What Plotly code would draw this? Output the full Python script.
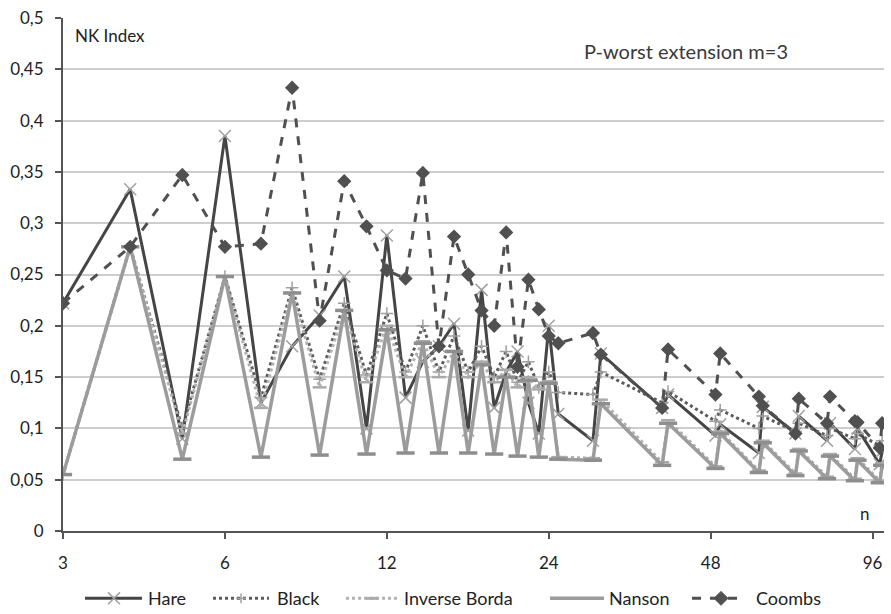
import plotly.graph_objects as go

# ---- data ----
n_vals = [3, 4, 5, 6, 7, 8, 9, 10, 11, 12, 13, 14, 15, 16, 17, 18, 19, 20, 21, 22, 23, 24,
          25, 29, 30, 39, 40, 49, 50, 59, 60, 69, 70, 79, 80, 89, 90, 99, 100]

hare = [0.222, 0.333, 0.090, 0.385, 0.125, 0.180, 0.210, 0.248, 0.100, 0.288, 0.130, 0.165,
        0.180, 0.202, 0.098, 0.235, 0.120, 0.155, 0.175, 0.125, 0.095, 0.200,
        0.114, 0.088, 0.173, 0.120, 0.133, 0.093, 0.104, 0.076, 0.121, 0.095, 0.112,
        0.088, 0.105, 0.080, 0.100, 0.065, 0.078]

black = [0.055, 0.277, 0.100, 0.248, 0.130, 0.237, 0.148, 0.222, 0.152, 0.212, 0.155, 0.200,
         0.155, 0.190, 0.155, 0.180, 0.150, 0.175, 0.145, 0.165, 0.140, 0.155,
         0.135, 0.133, 0.155, 0.125, 0.136, 0.107, 0.118, 0.100, 0.112, 0.097, 0.105,
         0.093, 0.100, 0.090, 0.095, 0.083, 0.088]

inverse_borda = [0.055, 0.277, 0.095, 0.248, 0.120, 0.232, 0.140, 0.215, 0.145, 0.200, 0.150, 0.185,
                 0.150, 0.175, 0.150, 0.165, 0.145, 0.157, 0.140, 0.150, 0.138, 0.146,
                 0.072, 0.071, 0.128, 0.067, 0.108, 0.063, 0.097, 0.059, 0.088, 0.056, 0.080,
                 0.053, 0.075, 0.051, 0.071, 0.049, 0.066]

nanson = [0.055, 0.277, 0.070, 0.248, 0.072, 0.232, 0.074, 0.215, 0.075, 0.196, 0.076, 0.183,
          0.076, 0.175, 0.076, 0.162, 0.075, 0.150, 0.073, 0.147, 0.072, 0.144,
          0.070, 0.069, 0.124, 0.064, 0.105, 0.061, 0.095, 0.057, 0.086, 0.054, 0.078,
          0.051, 0.073, 0.049, 0.069, 0.047, 0.064]

coombs = [0.222, 0.277, 0.347, 0.277, 0.280, 0.432, 0.205, 0.341, 0.297, 0.254, 0.246, 0.349,
          0.180, 0.287, 0.250, 0.215, 0.200, 0.291, 0.160, 0.245, 0.216, 0.190,
          0.183, 0.193, 0.172, 0.120, 0.177, 0.133, 0.173, 0.131, 0.122, 0.095, 0.129,
          0.105, 0.131, 0.107, 0.106, 0.081, 0.105]

series_names = ["Hare", "Black", "Inverse Borda", "Nanson", "Coombs"]

x_tick_vals = [3, 6, 12, 24, 48, 96]
x_tick_text = ["3", "6", "12", "24", "48", "96"]
y_tick_vals = [0, 0.05, 0.1, 0.15, 0.2, 0.25, 0.3, 0.35, 0.4, 0.45, 0.5]
y_tick_text = ["0", "0,05", "0,1", "0,15", "0,2", "0,25", "0,3", "0,35", "0,4", "0,45", "0,5"]

FONT = "Lato, 'Open Sans', sans-serif"
TXT = "#222222"

# styles
styles = {
    "Hare": dict(line=dict(color="#454545", width=3),
                 marker=dict(symbol="x-thin", size=12, color="#a0a0a0",
                             line=dict(color="#a0a0a0", width=1.5))),
    "Black": dict(line=dict(color="#5c5c5c", width=3, dash="dot"),
                  marker=dict(symbol="cross-thin", size=9, color="#a0a0a0",
                              line=dict(color="#a0a0a0", width=1.5))),
    "Inverse Borda": dict(line=dict(color="#b2b2b2", width=3, dash="dot"),
                          marker=dict(symbol="line-ew", size=10, color="#aaaaaa",
                                      line=dict(color="#aaaaaa", width=2.5))),
    "Nanson": dict(line=dict(color="#9c9c9c", width=3.5),
                   marker=dict(symbol="line-ew", size=13, color="#8e8e8e",
                               line=dict(color="#8e8e8e", width=3.5))),
    "Coombs": dict(line=dict(color="#505050", width=3, dash="dash"),
                   marker=dict(symbol="diamond", size=11, color="#505050")),
}
values = {"Hare": hare, "Black": black, "Inverse Borda": inverse_borda,
          "Nanson": nanson, "Coombs": coombs}

fig = go.Figure()
for name in series_names:
    fig.add_trace(go.Scatter(x=n_vals, y=values[name], name=name, mode="lines+markers",
                             showlegend=False, **styles[name]))

# ---- plot geometry (pixels) ----
W, H = 891, 614
L, R, T, B = 63, 7, 13, 83
PW, PH = W - L - R, H - T - B


def px(x):
    return (x - L) / PW


def py(y):
    return (H - B - y) / PH


# ---- legend row drawn as in the Excel original ----
LEG_Y = 599
legend_items = [
    # name, line x0, line x1, marker x, text x
    ("Hare", 85, 142, 114, 146),
    ("Black", 213, 269, 241, 275),
    ("Inverse Borda", 346, 397, 372, 402),
    ("Nanson", 550, 604, 577, 607),
    ("Coombs", 692, 746, 721, 754),
]
shapes = []
annotations = []
for name, x0, x1, mx, tx in legend_items:
    st = styles[name]
    shapes.append(dict(type="line", xref="paper", yref="paper",
                       x0=px(x0), x1=px(x1), y0=py(LEG_Y), y1=py(LEG_Y),
                       line=dict(color=st["line"]["color"], width=st["line"]["width"],
                                 dash=st["line"].get("dash", "solid"))))
    mcol = st["marker"]["color"]
    if name == "Hare":
        for d in (1, -1):
            shapes.append(dict(type="line", xref="paper", yref="paper",
                               x0=px(mx - 6), x1=px(mx + 6),
                               y0=py(LEG_Y - 6 * d), y1=py(LEG_Y + 6 * d),
                               line=dict(color=mcol, width=1.5)))
    elif name == "Black":
        shapes.append(dict(type="line", xref="paper", yref="paper",
                           x0=px(mx), x1=px(mx), y0=py(LEG_Y - 5), y1=py(LEG_Y + 5),
                           line=dict(color=mcol, width=1.5)))
        shapes.append(dict(type="line", xref="paper", yref="paper",
                           x0=px(mx - 5), x1=px(mx + 5), y0=py(LEG_Y), y1=py(LEG_Y),
                           line=dict(color=mcol, width=1.5)))
    elif name == "Inverse Borda":
        shapes.append(dict(type="line", xref="paper", yref="paper",
                           x0=px(mx - 6), x1=px(mx + 6), y0=py(LEG_Y), y1=py(LEG_Y),
                           line=dict(color=mcol, width=3)))
    elif name == "Coombs":
        path = "M {} {} L {} {} L {} {} L {} {} Z".format(
            px(mx), py(LEG_Y - 7), px(mx + 7), py(LEG_Y),
            px(mx), py(LEG_Y + 7), px(mx - 7), py(LEG_Y))
        shapes.append(dict(type="path", xref="paper", yref="paper", path=path,
                           fillcolor=mcol, line=dict(color=mcol, width=1)))
    annotations.append(dict(text=name, xref="paper", yref="paper", x=px(tx), y=py(LEG_Y),
                            xanchor="left", yanchor="middle", showarrow=False,
                            font=dict(size=18, color=TXT, family=FONT)))

annotations += [
    dict(text="NK Index", xref="paper", yref="paper", x=px(73), y=py(31),
         xanchor="left", yanchor="middle", showarrow=False,
         font=dict(size=17, color=TXT, family=FONT)),
    dict(text="P-worst extension m=3", xref="paper", yref="paper", x=px(686), y=py(46),
         xanchor="center", yanchor="middle", showarrow=False,
         font=dict(size=20, color="#3a3a3a", family=FONT)),
    dict(text="n", xref="paper", yref="paper", x=px(865), y=py(513),
         xanchor="center", yanchor="middle", showarrow=False,
         font=dict(size=17, color=TXT, family=FONT)),
]

fig.update_layout(
    width=W, height=H,
    margin=dict(l=L, r=R, t=T, b=B),
    paper_bgcolor="white", plot_bgcolor="white",
    font=dict(family=FONT, size=17, color=TXT),
    showlegend=False,
    xaxis=dict(type="log", range=[0.47712, 2.0035],
               tickvals=x_tick_vals, ticktext=x_tick_text,
               showgrid=False, zeroline=False,
               showline=True, linecolor="#555555", linewidth=2,
               ticks="outside", ticklen=6, tickwidth=2, tickcolor="#555555",
               ticklabelstandoff=10,
               tickfont=dict(size=17, color=TXT)),
    yaxis=dict(range=[0, 0.5], tickvals=y_tick_vals, ticktext=y_tick_text,
               showgrid=True, gridcolor="#cdcdcd", gridwidth=1.5,
               zeroline=False,
               showline=True, linecolor="#555555", linewidth=2,
               ticks="outside", ticklen=6, tickwidth=2, tickcolor="#555555",
               ticklabelstandoff=8,
               tickfont=dict(size=17, color=TXT)),
    shapes=shapes,
    annotations=annotations,
)

# remove the browser's default 8px page margin so the figure sits at the window origin
fig.write_html(
    "out.html",
    config={"displayModeBar": False},
    post_script="document.body.style.margin='0px';"
                "document.body.style.overflow='hidden';"
                "document.documentElement.style.overflow='hidden';",
)
